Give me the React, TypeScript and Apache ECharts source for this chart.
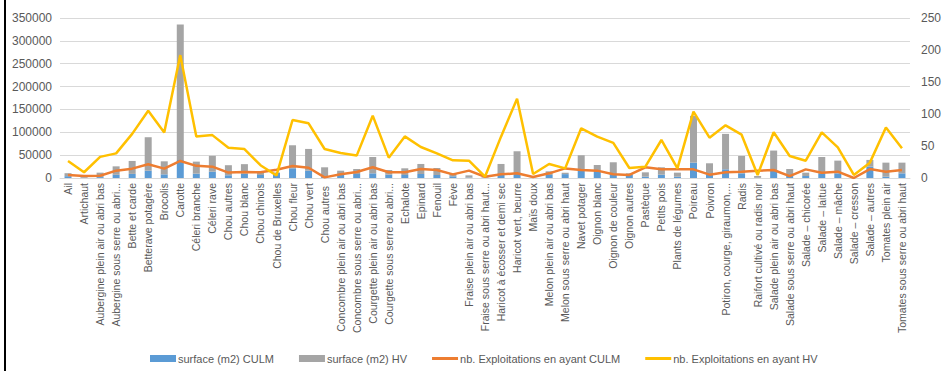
import React, { useEffect, useRef } from "react";
import * as echarts from "echarts";

const categories = [
  "Ail", "Artichaut", "Aubergine plein air ou abri bas", "Aubergine sous serre ou abri...",
  "Bette et carde", "Betterave potagère", "Brocolis", "Carotte", "Céleri branche", "Céleri rave",
  "Chou autres", "Chou blanc", "Chou chinois", "Chou de Bruxelles", "Chou fleur", "Chou vert",
  "Chou autres ", "Concombre plein air ou abri bas", "Concombre sous serre ou abri...",
  "Courgette plein air ou abri bas", "Courgette sous serre ou abri...", "Echalote", "Epinard",
  "Fenouil", "Fève", "Fraise plein air ou abri bas", "Fraise sous serre ou abri haut...",
  "Haricot à écosser et demi sec", "Haricot vert, beurre", "Maïs doux",
  "Melon plein air ou abri bas", "Melon sous serre ou abri haut", "Navet potager",
  "Oignon blanc", "Oignon de couleur", "Oignon autres", "Pastèque", "Petits pois",
  "Plants de légumes", "Poireau", "Poivron", "Potiron, courge, giraumon,...", "Radis",
  "Raifort cultivé ou radis noir", "Salade plein air ou abri bas", "Salade sous serre ou abri haut",
  "Salade – chicorée", "Salade – laitue", "Salade – mâche", "Salade – cresson", "Salade – autres",
  "Tomates plein air", "Tomates sous serre ou abri haut",
];

const surfaceCulm = [
  4000, 1000, 2000, 7000, 9000, 16000, 8000, 39500, 9500, 13900,
  6000, 9500, 6600, 11000, 21200, 16000, 2900, 6600, 8800, 10200,
  7300, 6600, 8800, 6600, 3700, 1000, 500, 6600, 10200, 200,
  6600, 8500, 17500, 16000, 8800, 7000, 2900, 7300, 2900, 33600,
  6600, 19000, 10200, 500, 16000, 6600, 4400, 8800, 10200, 0,
  25000, 2900, 10200,
];

const surfaceHv = [
  6500, 1500, 9700, 18500, 28300, 73200, 28500, 296500, 26300, 34600,
  22000, 20800, 7400, 1000, 50400, 47600, 20500, 9400, 10900, 35800,
  10200, 14600, 21900, 15300, 5100, 4800, 1000, 24100, 48300, 400,
  8000, 3000, 32200, 12500, 25600, 3200, 9500, 16100, 8800, 102400,
  25600, 77500, 38000, 3900, 44000, 13100, 7300, 37200, 27800, 300,
  14500, 30700, 23400,
];

const nbCulm = [
  4.7, 3, 3.6, 11.5, 14.6, 21.4, 14.6, 26.6, 19, 17.7,
  8.5, 9.5, 8.9, 13, 18.7, 16, 1, 5.7, 9.4, 16.7,
  8.9, 8.9, 14, 12.5, 5.7, 11.5, 2, 5.7, 7.3, 1.6,
  7.3, 15, 12.5, 11.5, 6, 4.7, 16.7, 13.5, 13.5, 13.5,
  5.2, 8.9, 9.9, 11.5, 12.5, 3, 13.5, 8.3, 9.9, 0,
  14, 9.9, 12.5,
];

const nbHv = [
  26.5, 9, 33, 38.5, 69, 105, 71, 192, 65, 67,
  47.4, 45.3, 20, 4, 90.6, 85.4, 45.3, 39, 35, 97.4,
  31.8, 65, 48.4, 38.5, 27.6, 27, 2, 64.6, 124, 6.2,
  21.9, 15, 77.6, 64.6, 55, 15.6, 17.7, 59.4, 15, 103.6,
  63, 82.3, 67.7, 4.7, 71.4, 34.4, 27, 71.4, 47.9, 4.7,
  24, 79, 46.4,
];

const leftTicks = { min: 0, max: 350000, interval: 50000 };
const rightTicks = { min: 0, max: 250, interval: 50 };

const FONT = "Liberation Sans";
const LABEL = "#595959";
const LINE_ICON = "path://M0,0H26V3H0Z";

export default function App() {
  const ref = useRef<HTMLDivElement>(null);
  useEffect(() => {
    if (!ref.current) return;
    const chart = echarts.init(ref.current, undefined, { renderer: "svg" });
    chart.setOption({
      animation: false,
      textStyle: { fontFamily: FONT },
      graphic: [
        { type: "rect", shape: { x: 4, y: 0, width: 2, height: 371 }, style: { fill: "#000" } },
      ],
      grid: { left: 60, right: 28, top: 18, bottom: 193 },
      legend: {
        bottom: 2,
        left: 145,
        itemGap: 25,
        itemWidth: 26,
        itemHeight: 7,
        textStyle: { color: LABEL, fontSize: 11, fontFamily: FONT, padding: [0, 0, 0, -3] },
        data: [
          { name: "surface (m2) CULM", icon: "rect" },
          { name: "surface (m2) HV", icon: "rect" },
          { name: "nb. Exploitations en ayant CULM", icon: LINE_ICON },
          { name: "nb. Exploitations en ayant HV", icon: LINE_ICON },
        ],
      },
      xAxis: {
        type: "category",
        data: categories,
        axisLine: { lineStyle: { color: "#D9D9D9" } },
        axisTick: { show: false },
        axisLabel: {
          interval: 0,
          rotate: 90,
          margin: 5,
          color: LABEL,
          fontSize: 10.5,
          fontFamily: FONT,
        },
      },
      yAxis: [
        {
          type: "value",
          ...leftTicks,
          axisLine: { show: false },
          axisTick: { show: false },
          splitLine: { lineStyle: { color: "#D9D9D9" } },
          axisLabel: {
            color: LABEL,
            fontSize: 12,
            margin: 8,
            fontFamily: FONT,
            formatter: (v: number) => String(v),
          },
        },
        {
          type: "value",
          ...rightTicks,
          axisLine: { show: false },
          axisTick: { show: false },
          splitLine: { show: false },
          axisLabel: {
            color: LABEL,
            fontSize: 12,
            margin: 11,
            fontFamily: FONT,
            formatter: (v: number) => String(v),
          },
        },
      ],
      series: [
        {
          name: "surface (m2) CULM",
          type: "bar",
          stack: "s",
          barWidth: 7,
          data: surfaceCulm,
          itemStyle: { color: "#5B9BD5" },
        },
        {
          name: "surface (m2) HV",
          type: "bar",
          stack: "s",
          barWidth: 7,
          data: surfaceHv,
          itemStyle: { color: "#A5A5A5" },
        },
        {
          name: "nb. Exploitations en ayant CULM",
          type: "line",
          yAxisIndex: 1,
          data: nbCulm,
          symbol: "none",
          lineStyle: { color: "#ED7D31", width: 2.5 },
          itemStyle: { color: "#ED7D31" },
        },
        {
          name: "nb. Exploitations en ayant HV",
          type: "line",
          yAxisIndex: 1,
          data: nbHv,
          symbol: "none",
          lineStyle: { color: "#FFC000", width: 2.5 },
          itemStyle: { color: "#FFC000" },
        },
      ],
    });
    return () => chart.dispose();
  }, []);
  return (
    <div
      ref={ref}
      style={{ position: "absolute", left: 0, top: 0, width: 944, height: 371, background: "#fff" }}
    />
  );
}
